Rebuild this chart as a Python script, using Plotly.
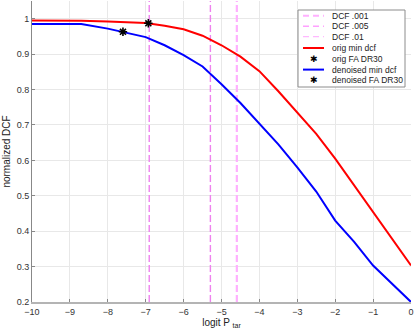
import numpy as np
import plotly.graph_objects as go

# DATA
logit_x = [-10, -9, -8.7, -8, -7.6, -7, -6.5, -6, -5.5, -5, -4.5, -4, -3.5, -3, -2.5, -2, -1.5, -1, -0.5, 0]
orig_min_dcf = [0.995, 0.995, 0.994, 0.992, 0.990, 0.988, 0.980, 0.970, 0.952, 0.925, 0.893, 0.852,
                0.795, 0.735, 0.675, 0.605, 0.530, 0.452, 0.378, 0.303]
denoised_min_dcf = [0.985, 0.985, 0.985, 0.972, 0.963, 0.948, 0.925, 0.897, 0.865, 0.815, 0.762, 0.705,
                    0.645, 0.580, 0.512, 0.430, 0.370, 0.303, 0.252, 0.200]
orig_fa_dr30 = (-6.93, 0.987)
denoised_fa_dr30 = (-7.6, 0.963)
ptar_lines = [0.01, 0.005, 0.001]
dcf_labels = ["DCF .001", "DCF .005", "DCF .01"]
legend_labels = dcf_labels + ["orig min dcf", "orig FA DR30", "denoised min dcf", "denoised FA DR30"]

FONT = "Liberation Sans, Arial, sans-serif"
Y_RANGE = [0.2, 1.05]

fig = go.Figure()

# vertical DCF operating points
vl_styles = [("#ffb0ff", 2.2), ("#ee82ee", 1.4), ("#ee82ee", 1.4)]
for p, (col, w) in zip(ptar_lines, vl_styles):
    xv = float(np.log(p / (1 - p)))
    fig.add_trace(go.Scatter(x=[xv, xv], y=Y_RANGE, mode="lines",
                             line=dict(color=col, width=w, dash="7px,3px"), showlegend=False))

fig.add_trace(go.Scatter(x=logit_x, y=orig_min_dcf, mode="lines",
                         line=dict(color="#ff0000", width=2), showlegend=False))
fig.add_trace(go.Scatter(x=logit_x, y=denoised_min_dcf, mode="lines",
                         line=dict(color="#0000ff", width=2), showlegend=False))
for pt in (orig_fa_dr30, denoised_fa_dr30):
    fig.add_trace(go.Scatter(x=[pt[0]], y=[pt[1]], mode="markers", showlegend=False,
                             marker=dict(symbol="asterisk-open", size=7, color="black",
                                         line=dict(color="black", width=1.6))))

# manual legend (plotly's own legend rows are too tall)
L, T, PW, PH = 32, 1, 379, 301
def px_x(p):
    return (p - L) / PW
def px_y(p):
    return (T + PH - p) / PH

shapes = [dict(type="rect", xref="paper", yref="paper", layer="above",
               x0=px_x(298), x1=px_x(405), y0=px_y(87), y1=px_y(10),
               fillcolor="white", line=dict(color="#8c8c8c", width=1))]
annotations = []
row_y = [15.7, 26.2, 36.7, 48.0, 59.0, 69.6, 80.3]
sample_styles = [("#ffb0ff", 2, "dash"), ("#ffa0ff", 1.6, "dash"), ("#ffb8ff", 1.2, "dash"),
                 ("#ff0000", 2, None), (None, 0, "*"), ("#0000ff", 2, None), (None, 0, "*")]
for lbl, yy, (col, w, kind) in zip(legend_labels, row_y, sample_styles):
    if kind == "*":
        annotations.append(dict(x=px_x(314), y=px_y(yy), xref="paper", yref="paper", text="✱",
                                showarrow=False, xanchor="center", yanchor="middle",
                                font=dict(family="DejaVu Sans", size=9, color="black")))
    else:
        shapes.append(dict(type="line", xref="paper", yref="paper", layer="above",
                           x0=px_x(303), x1=px_x(324), y0=px_y(yy), y1=px_y(yy),
                           line=dict(color=col, width=w, dash="6px,4px" if kind else "solid")))
    annotations.append(dict(x=px_x(330), y=px_y(yy), xref="paper", yref="paper", text=lbl,
                            showarrow=False, xanchor="left", yanchor="middle",
                            font=dict(family=FONT, size=8.5, color="#222")))

fig.update_layout(
    width=415, height=332,
    margin=dict(l=L, r=415 - L - PW, t=T, b=332 - T - PH),
    plot_bgcolor="white", paper_bgcolor="white",
    font=dict(family=FONT, size=9, color="#333"),
    shapes=shapes, annotations=annotations,
    showlegend=False,
)
fig.update_xaxes(range=[-10, 0], tickvals=list(range(-10, 1)), showgrid=True, gridcolor="#e8e8e8",
                 zeroline=False, showline=True, linecolor="#b4b4b4", linewidth=2,
                 ticks="inside", ticklen=3, tickcolor="#888",
                 title=dict(text="logit P <sub>tar</sub>", font=dict(size=10, color="#222"), standoff=0),
                 automargin=False)
fig.update_yaxes(range=Y_RANGE, tickvals=[0.2, 0.3, 0.4, 0.5, 0.6, 0.7, 0.8, 0.9, 1],
                 ticktext=["0.2", "0.3", "0.4", "0.5", "0.6", "0.7", "0.8", "0.9", "1"],
                 showgrid=True, gridcolor="#e8e8e8", zeroline=False,
                 showline=True, linecolor="#888", linewidth=1,
                 ticks="inside", ticklen=3, tickcolor="#888",
                 title=dict(text="normalized DCF", font=dict(size=10, color="#222"), standoff=4),
                 automargin=False)

# page body has an 8px default margin; drop it so the figure sits at the window corner
fig.write_html("out.html", config={"displayModeBar": False},
               post_script="document.body.style.margin='0';")
